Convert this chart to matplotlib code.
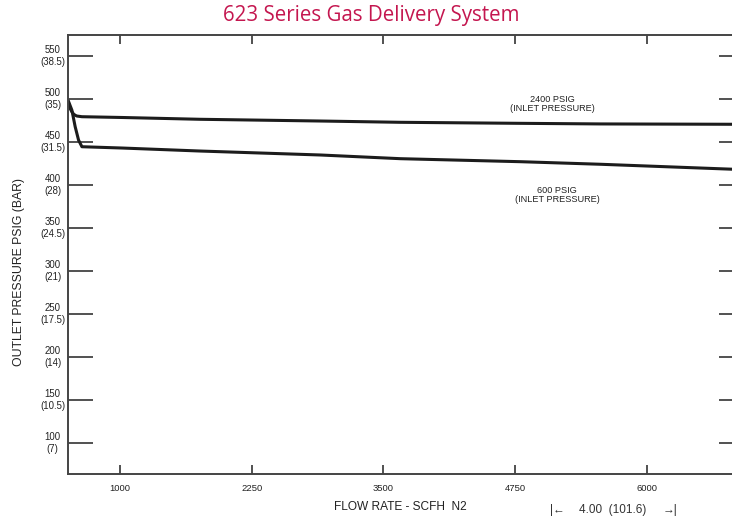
import matplotlib
matplotlib.use('Agg')
import matplotlib.pyplot as plt

plt.rcParams['font.family'] = ['Liberation Sans', 'DejaVu Sans']

# Outlet pressure curves (flow in SCFH N2, pressure in PSIG)
flow_2400 = [507, 517, 527, 543, 559, 575, 591, 639, 1019, 1760, 2900, 3660, 4800, 5560, 6820, 6920]
psig_2400 = [497.7, 493, 489, 485.3, 482.6, 481.1, 480.2, 479.4, 478.5, 476.4, 474.4, 472.9, 471.7, 471.0, 470.6, 470.5]

flow_600 = [507, 544, 575, 607, 639, 1019, 1760, 2900, 3660, 4800, 5560, 6820, 6920]
psig_600 = [498.8, 487, 467.8, 452.3, 444.5, 443.0, 439.5, 434.9, 430.6, 427.1, 424.1, 418.3, 417.8]

x_ticks = [1000, 2250, 3500, 4750, 6000]
y_ticks = [100, 150, 200, 250, 300, 350, 400, 450, 500, 550]
y_bar = ['7', '10.5', '14', '17.5', '21', '24.5', '28', '31.5', '35', '38.5']
y_labels = [f'{p}\n({b})' for p, b in zip(y_ticks, y_bar)]

fig = plt.figure(figsize=(7.32, 5.16), dpi=100)
# right spine sits just past the edge of the picture
ax = fig.add_axes([68 / 732, 42 / 516, (744 - 68) / 732, (474 - 35) / 516])

line_color = '#1c1c1c'
ax.plot(flow_2400, psig_2400, color=line_color, lw=2.2, solid_capstyle='butt')
ax.plot(flow_600, psig_600, color=line_color, lw=2.2, solid_capstyle='butt')

ax.set_xlim(507, 6920)
ax.set_ylim(64, 574.4)

ax.set_xticks(x_ticks)
ax.set_xticklabels([str(x) for x in x_ticks], fontsize=6.8, color='#222222')
ax.set_yticks(y_ticks)
ax.set_yticklabels(y_labels, fontsize=6.9, color='#222222')
for lab in ax.get_yticklabels():
    lab.set_horizontalalignment('center')
    lab.set_multialignment('center')
    lab.set_verticalalignment('center')

ax.tick_params(axis='y', direction='in', length=18, width=1.1, color='#222222',
               left=True, right=True, pad=11)
ax.tick_params(axis='x', direction='in', length=6.5, width=1.1,
               color='#222222', bottom=True, top=True, pad=7)

for side in ['left', 'top', 'bottom', 'right']:
    ax.spines[side].set_color('#444444')
    ax.spines[side].set_linewidth(1.4)

# curve annotations
ax.text(5099, 494, '2400 PSIG\n(INLET PRESSURE)', fontsize=6.6, ha='center',
        va='center', linespacing=0.95, color='#222222')
ax.text(5146, 388, '600 PSIG\n(INLET PRESSURE)', fontsize=6.6, ha='center',
        va='center', linespacing=0.95, color='#222222')

fig.text(371 / 732, 1 - 16 / 516, '623 Series Gas Delivery System', fontsize=14.8,
         family='Open Sans', color='#c4164f', ha='center', va='center')

fig.text(19 / 732, 1 - 272 / 516, 'OUTLET PRESSURE PSIG (BAR)', fontsize=8.8,
         rotation=90, ha='center', va='center', color='#222222')

fig.text(400 / 732, 1 - 507 / 516, 'FLOW RATE - SCFH  N2', fontsize=8.6,
         ha='center', va='center', color='#222222')

# dimension callout along the bottom edge
fig.text(613 / 732, 1 - 510 / 516, '4.00  (101.6)', fontsize=8.5,
         ha='center', va='center', color='#333333')
fig.text(557 / 732, 1 - 510 / 516, '|\u2190', fontsize=8.5,
         ha='center', va='center', color='#333333')
fig.text(670 / 732, 1 - 510 / 516, '\u2192|', fontsize=8.5,
         ha='center', va='center', color='#333333')

fig.savefig('out.png', dpi=100)
